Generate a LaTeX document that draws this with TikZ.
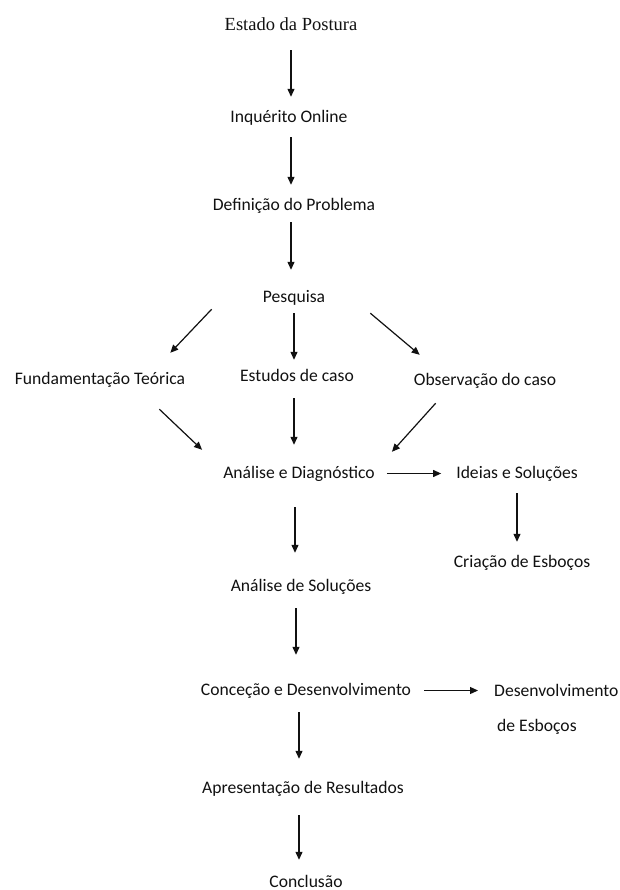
\documentclass[tikz,border=0pt]{standalone}
\usepackage{fontspec}
\setmainfont{Carlito}
\newfontfamily\titlefont{Liberation Serif}
\usepackage{tikz}
\usetikzlibrary{arrows.meta,calc}
\definecolor{ink}{HTML}{111111}
\tikzset{
  every node/.style={font=\fontsize{17.6}{21}\selectfont, text=ink},
  stage/.style={
    inner sep=0pt, text height=13pt, text depth=4pt,
    anchor=base
  },
  heading/.style={
    stage, font=\titlefont\fontsize{18.5}{22}\selectfont
  },
  flow/.style={
    -{Triangle[length=8pt,width=7pt]},
    line width=1.2pt, draw=ink
  },
}

\begin{document}
\begin{tikzpicture}[x=1pt,y=-1pt]
  \useasboundingbox (0,0) rectangle (619,890);
  \node[heading] (est) at (291,31) {Estado da Postura};
  \node[stage] (inq) at (289,123) {Inquérito Online};
  \node[stage] (def) at (294,211) {Definição do Problema};
  \node[stage] (pes) at (294,302) {Pesquisa};
  \node[stage] (fund) at (100,384) {Fundamentação Teórica};
  \node[stage] (estu) at (297,381) {Estudos de caso};
  \node[stage] (obs) at (485,385) {Observação do caso};
  \node[stage] (diag) at (299,478) {Análise e Diagnóstico};
  \node[stage] (ide) at (517,478) {Ideias e Soluções};
  \node[stage] (cri) at (522,567) {Criação de Esboços};
  \node[stage] (sol) at (301,591) {Análise de Soluções};
  \node[stage] (conc) at (306,695) {Conceção e Desenvolvimento};
  \node[stage, anchor=base west] (desv) at (494,696) {Desenvolvimento};
  \node[stage, anchor=base west] (desvb) at (497,731) {de Esboços};
  \node[stage] (apr) at (303,793) {Apresentação de Resultados};
  \node[stage] (con) at (306,887) {Conclusão};

  \draw[flow, shorten <=15pt, shorten >=13pt] (est.south) -- (est.south |- inq.north);
  \draw[flow, shorten <=10pt, shorten >=13pt] (est.south |- inq.south) -- (est.south |- def.north);
  \draw[flow, shorten <=7pt, shorten >=19pt] (est.south |- def.south) -- (est.south |- pes.north);
  \draw[flow] ([shift={(-51,3)}]pes.south west) -- ([shift={(-15,-18)}]fund.north east);
  \draw[flow, shorten <=7pt, shorten >=8pt] (pes.south) -- (pes.south |- estu.north);
  \draw[flow] ([shift={(45,7)}]pes.south east) -- ([shift={(6,-17)}]obs.north west);
  \draw[flow] ([shift={(-26,21)}]fund.south east) -- ([shift={(-21,-15)}]diag.north west);
  \draw[flow, shorten <=13pt, shorten >=20pt] (pes.south |- estu.south) -- (pes.south |- diag.north);
  \draw[flow] ([shift={(22,14)}]obs.south west) -- ([shift={(17,-13)}]diag.north east);
  \draw[flow, shorten <=12pt, shorten >=15pt] (diag.east) -- (ide.west);
  \draw[flow, shorten <=11pt, shorten >=12pt] (ide.south) -- (ide.south |- cri.north);
  \draw[flow, shorten <=25pt, shorten >=25pt] ([xshift=-4pt]diag.south) -- ([xshift=-4pt]diag.south |- sol.north);
  \draw[flow, shorten <=13pt, shorten >=27pt] ([xshift=-5pt]sol.south) -- ([xshift=-5pt]sol.south |- conc.north);
  \draw[flow, shorten <=13pt, shorten >=16pt] (conc.east) -- (conc.east -| desv.west);
  \draw[flow, shorten <=13pt, shorten >=21pt] ([xshift=-7pt]conc.south) -- ([xshift=-7pt]conc.south |- apr.north);
  \draw[flow, shorten <=18pt, shorten >=14pt] ([xshift=-4pt]apr.south) -- ([xshift=-4pt]apr.south |- con.north);
\end{tikzpicture}
\end{document}
